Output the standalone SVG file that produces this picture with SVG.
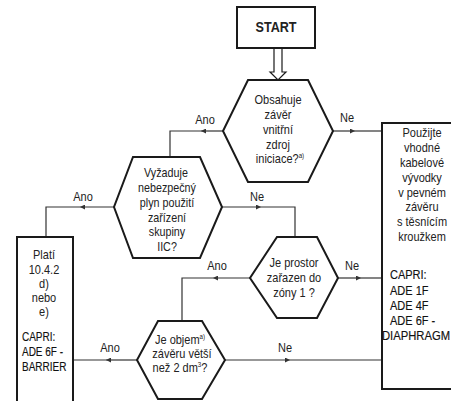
<svg xmlns="http://www.w3.org/2000/svg" width="451" height="401" viewBox="0 0 451 401">
<defs>
<marker id="ah" viewBox="0 0 10 10" refX="10" refY="5" markerWidth="7" markerHeight="5" orient="auto" markerUnits="userSpaceOnUse">
<path d="M0,0 L10,5 L0,10 z" fill="#333"/>
</marker>
</defs>
<style>
.shape{fill:#fff;stroke:#1a1a1a;stroke-width:2}
.t{font-family:"Liberation Sans",Arial,sans-serif;font-size:12.5px;fill:#222;text-anchor:middle}
.l{text-anchor:start;fill:#111;stroke:#111;stroke-width:0.15}
.b{font-weight:bold;font-size:14px}
.sup{font-size:7px}
.c{fill:none;stroke:#333;stroke-width:1.2}
.a{fill:none;stroke:#333;stroke-width:1.2;marker-end:url(#ah)}
</style>
<rect width="451" height="401" fill="#fff"/>

<g id="connectors">
<path class="shape" d="M274,48 V72 H270 L278,80 L286,72 H282 V48" style="stroke-width:1.2"/>
<path class="a" d="M223,131 H201"/><path class="c" d="M201,131 H170 V157"/>
<path class="a" d="M333,131 H355"/><path class="c" d="M355,131 H382"/>
<path class="a" d="M114,207 H80"/><path class="c" d="M80,207 H46 V237"/>
<path class="a" d="M222,207 H261"/><path class="c" d="M261,207 H295 V237"/>
<path class="a" d="M250,278 H213"/><path class="c" d="M213,278 H182 V321"/>
<path class="a" d="M338,278 H361"/><path class="c" d="M361,278 H382"/>
<path class="a" d="M137,360 H106"/><path class="c" d="M106,360 H72"/>
<path class="a" d="M225,360 H290"/><path class="c" d="M290,360 H382"/>
<text class="t" transform="matrix(0.88 0 0 1 205 124)">Ano</text>
<text class="t" transform="matrix(0.88 0 0 1 347 122)">Ne</text>
<text class="t" transform="matrix(0.88 0 0 1 83 201)">Ano</text>
<text class="t" transform="matrix(0.88 0 0 1 257 201)">Ne</text>
<text class="t" transform="matrix(0.88 0 0 1 217 270)">Ano</text>
<text class="t" transform="matrix(0.88 0 0 1 352 270)">Ne</text>
<text class="t" transform="matrix(0.88 0 0 1 110 352)">Ano</text>
<text class="t" transform="matrix(0.88 0 0 1 285 352)">Ne</text>
</g>

<g id="start">
<rect class="shape" x="237" y="7" width="78" height="41"/>
<text class="t b" transform="matrix(0.9 0 0 1 276 32)">START</text>
</g>

<g id="q1">
<polygon class="shape" points="248,80 308,80 333,131 308,182 248,182 223,131"/>
<text class="t" transform="matrix(0.88 0 0 1 278 104)">Obsahuje</text>
<text class="t" transform="matrix(0.88 0 0 1 278 119)">závěr</text>
<text class="t" transform="matrix(0.88 0 0 1 278 134)">vnitřní</text>
<text class="t" transform="matrix(0.88 0 0 1 278 149)">zdroj</text>
<text class="t" transform="matrix(0.88 0 0 1 280 163)">iniciace?<tspan class="sup" dy="-5">a)</tspan></text>
</g>

<g id="q2">
<polygon class="shape" points="133,157 200,157 222,207 200,258 133,258 114,207"/>
<text class="t" transform="matrix(0.86 0 0 1 166 177)">Vyžaduje</text>
<text class="t" transform="matrix(0.86 0 0 1 167 192)">nebezpečný</text>
<text class="t" transform="matrix(0.86 0 0 1 167 207)">plyn použití</text>
<text class="t" transform="matrix(0.86 0 0 1 167 222)">zařízení</text>
<text class="t" transform="matrix(0.86 0 0 1 167 236)">skupiny</text>
<text class="t" transform="matrix(0.86 0 0 1 167 251)">IIC?</text>
</g>

<g id="q3">
<polygon class="shape" points="277,237 317,237 338,278 317,318 277,318 250,278"/>
<text class="t" transform="matrix(0.88 0 0 1 294 267)">Je prostor</text>
<text class="t" transform="matrix(0.88 0 0 1 294 282)">zařazen do</text>
<text class="t" transform="matrix(0.88 0 0 1 294 297)">zóny 1 ?</text>
</g>

<g id="q4">
<polygon class="shape" points="158,321 202,321 225,360 202,399 158,399 137,360"/>
<text class="t" transform="matrix(0.88 0 0 1 180 344)">Je objem<tspan class="sup" dy="-5">a)</tspan></text>
<text class="t" transform="matrix(0.88 0 0 1 182 358)">závěru větší</text>
<text class="t" transform="matrix(0.88 0 0 1 180 372)">než 2 dm<tspan class="sup" dy="-5">3</tspan><tspan dy="5">?</tspan></text>
</g>

<g id="result-left">
<rect class="shape" x="17" y="237" width="56" height="170"/>
<text class="t" transform="matrix(0.88 0 0 1 44 259)">Platí</text>
<text class="t" transform="matrix(0.88 0 0 1 44 274)">10.4.2</text>
<text class="t" transform="matrix(0.88 0 0 1 44 288)">d)</text>
<text class="t" transform="matrix(0.88 0 0 1 44 302)">nebo</text>
<text class="t" transform="matrix(0.88 0 0 1 44 316)">e)</text>
<text class="t l" transform="matrix(0.8 0 0 1 22 341)">CAPRI:</text>
<text class="t l" transform="matrix(0.8 0 0 1 22 356)">ADE 6F -</text>
<text class="t l" transform="matrix(0.8 0 0 1 22 371)">BARRIER</text>
</g>

<g id="result-right">
<rect class="shape" x="382" y="123" width="80" height="266"/>
<text class="t" transform="matrix(0.88 0 0 1 422 137)">Použijte</text>
<text class="t" transform="matrix(0.88 0 0 1 422 152)">vhodné</text>
<text class="t" transform="matrix(0.88 0 0 1 422 167)">kabelové</text>
<text class="t" transform="matrix(0.88 0 0 1 422 182)">vývodky</text>
<text class="t" transform="matrix(0.88 0 0 1 422 197)">v pevném</text>
<text class="t" transform="matrix(0.88 0 0 1 422 211)">závěru</text>
<text class="t" transform="matrix(0.88 0 0 1 422 226)">s těsnícím</text>
<text class="t" transform="matrix(0.88 0 0 1 422 241)">kroužkem</text>
<text class="t l" transform="matrix(0.88 0 0 1 390 279)">CAPRI:</text>
<text class="t l" transform="matrix(0.88 0 0 1 390 295)">ADE 1F</text>
<text class="t l" transform="matrix(0.88 0 0 1 390 310)">ADE 4F</text>
<text class="t l" transform="matrix(0.88 0 0 1 390 325)">ADE 6F -</text>
<text class="t l" transform="matrix(0.9 0 0 1 382 340)">DIAPHRAGM</text>
</g>
</svg>
